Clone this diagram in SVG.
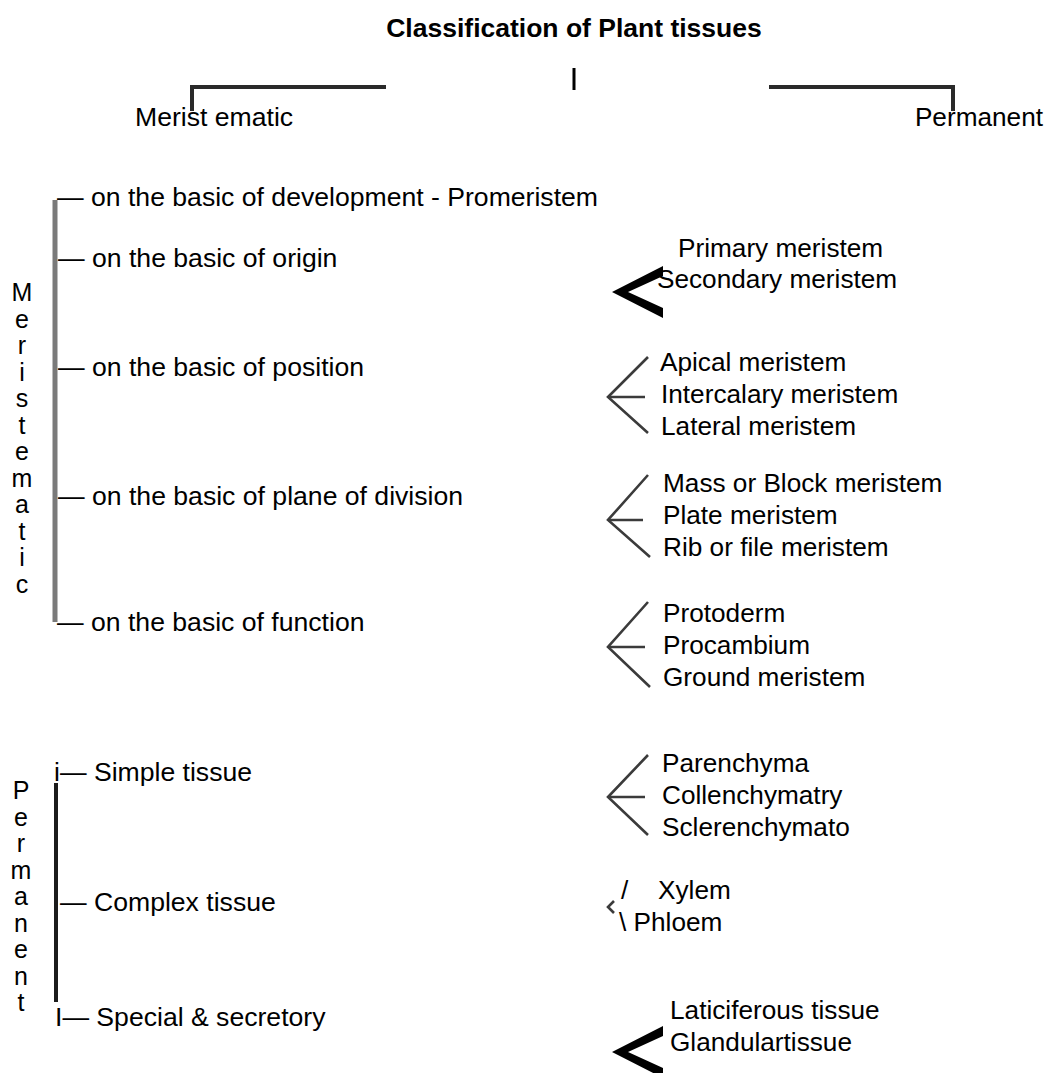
<svg xmlns="http://www.w3.org/2000/svg" width="1050" height="1073" viewBox="0 0 1050 1073">
<style>
text{font-family:"Liberation Sans",Arial,sans-serif;font-size:26.2px;fill:#000}
.l{font-size:26.6px}
.t{font-size:26.5px;font-weight:bold}
.v{font-size:25px;text-anchor:middle}
.br{fill:none;stroke:#2a2a2a;stroke-width:4}
.ch{fill:none;stroke:#3a3a3a;stroke-width:2.6;filter:url(#soft)}
</style>
<defs>
<filter id="soft" filterUnits="userSpaceOnUse" x="0" y="0" width="1050" height="1073"><feGaussianBlur stdDeviation="0.6"/></filter>
</defs>
<rect width="1050" height="1073" fill="#fff"/>
<g id="connectors">
<polyline class="br" points="192,111 192,87 386,87"/>
<polyline class="br" points="769,87 953,87 953,111"/>
<rect x="572.5" y="68" width="3" height="22" fill="#000"/>
<line x1="55" y1="200" x2="55" y2="622" stroke="#7a7a7a" stroke-width="5" filter="url(#soft)"/>
<line x1="56" y1="783" x2="56" y2="1002" stroke="#1e1e1e" stroke-width="4" filter="url(#soft)"/>
<polygon points="663,266 612,292 663,318 663,308 628,292 663,276" fill="#000"/>
<polyline class="ch" points="648,357 608,397 648,433"/><line class="ch" x1="608" y1="397" x2="645" y2="397"/>
<polyline class="ch" points="648,475 608,520 650,557"/><line class="ch" x1="608" y1="520" x2="643" y2="520"/>
<polyline class="ch" points="648,602 608,647 650,687"/><line class="ch" x1="608" y1="647" x2="645" y2="647"/>
<polyline class="ch" points="648,755 608,797 648,835"/><line class="ch" x1="608" y1="797" x2="645" y2="797"/>
<polyline class="ch" points="614,901 608,907 614,913"/>
<polygon points="663,1026 612,1052 663,1078 663,1068 628,1052 663,1036" fill="#000"/>
</g>
<g id="title"><text class="t" x="574" y="37" text-anchor="middle">Classification of Plant tissues</text></g>
<g id="meristematic-head"><text class="l" x="135" y="126">Merist ematic</text></g>
<g id="permanent-head"><text x="1043" y="126" text-anchor="end">Permanent</text></g>
<g id="meristematic-vertical">
<text class="v" x="22" y="301">M</text><text class="v" x="22" y="327.5">e</text><text class="v" x="22" y="354">r</text><text class="v" x="22" y="380.5">i</text><text class="v" x="22" y="407">s</text><text class="v" x="22" y="433.5">t</text><text class="v" x="22" y="460">e</text><text class="v" x="22" y="486.5">m</text><text class="v" x="22" y="513">a</text><text class="v" x="22" y="539.5">t</text><text class="v" x="22" y="566">i</text><text class="v" x="22" y="592.5">c</text>
</g>
<g id="permanent-vertical">
<text class="v" x="21" y="799">P</text><text class="v" x="21" y="825.5">e</text><text class="v" x="21" y="852">r</text><text class="v" x="21" y="878.5">m</text><text class="v" x="21" y="905">a</text><text class="v" x="21" y="931.5">n</text><text class="v" x="21" y="958">e</text><text class="v" x="21" y="984.5">n</text><text class="v" x="21" y="1011">t</text>
</g>
<g id="development"><text class="l" x="57" y="206">— on the basic of development - Promeristem</text></g>
<g id="origin"><text class="l" x="58" y="267">— on the basic of origin</text></g>
<g id="position"><text class="l" x="58" y="376">— on the basic of position</text></g>
<g id="plane"><text class="l" x="58" y="505">— on the basic of plane of division</text></g>
<g id="function"><text class="l" x="57" y="631">— on the basic of function</text></g>
<g id="simple"><text class="l" x="54" y="781">i— Simple tissue</text></g>
<g id="complex"><text class="l" x="60" y="911">— Complex tissue</text></g>
<g id="special"><text class="l" x="55" y="1026">I— Special &amp; secretory</text></g>
<g id="origin-types"><text x="678" y="257">Primary meristem</text><text x="657" y="288">Secondary meristem</text></g>
<g id="position-types"><text x="660" y="371">Apical meristem</text><text x="661" y="403">Intercalary meristem</text><text x="661" y="435">Lateral meristem</text></g>
<g id="plane-types"><text x="663" y="492">Mass or Block meristem</text><text x="663" y="524">Plate meristem</text><text x="663" y="556">Rib or file meristem</text></g>
<g id="function-types"><text x="663" y="622">Protoderm</text><text x="663" y="654">Procambium</text><text x="663" y="686">Ground meristem</text></g>
<g id="simple-types"><text x="662" y="772">Parenchyma</text><text x="662" y="804">Collenchymatry</text><text x="662" y="836">Sclerenchymato</text></g>
<g id="complex-types"><text x="621" y="899">/</text><text x="658" y="899">Xylem</text><text x="619" y="931">\ Phloem</text></g>
<g id="special-types"><text x="670" y="1019">Laticiferous tissue</text><text x="670" y="1051">Glandulartissue</text></g>
</svg>
